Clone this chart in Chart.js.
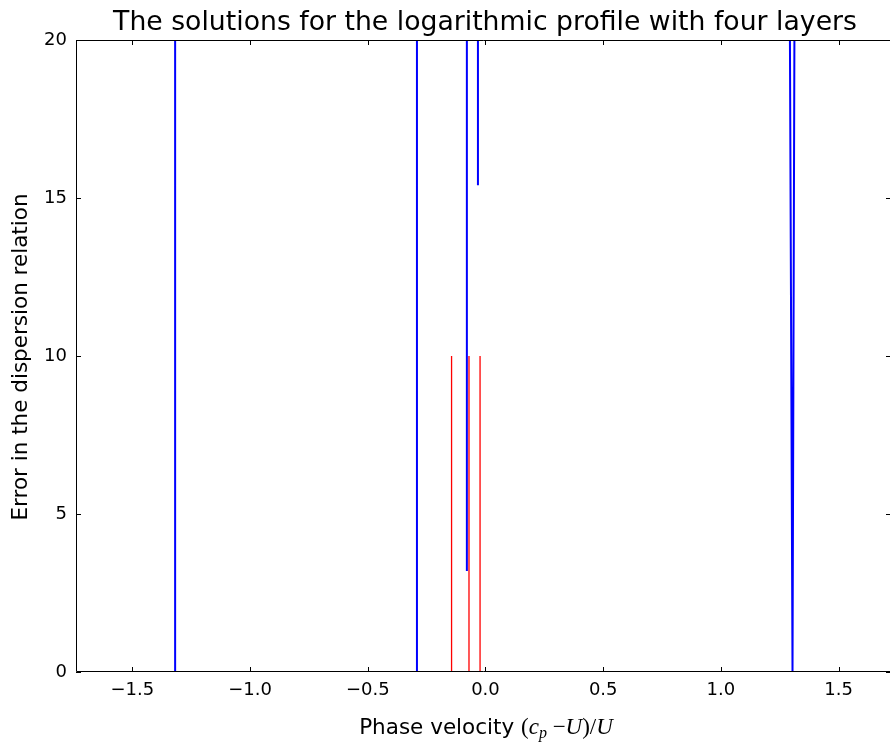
<!DOCTYPE html>
<html>
<head>
<meta charset="utf-8">
<script src="https://cdn.jsdelivr.net/npm/chart.js@4"></script>
<style>
html, body { margin: 0; padding: 0; background: #fff; overflow: hidden; }
</style>
</head>
<body>
<canvas id="chart" width="890" height="743"></canvas>
<script>
// tick labels
const xTicks = [-1.5, -1.0, -0.5, 0.0, 0.5, 1.0, 1.5];
const yTicks = [0, 5, 10, 15, 20];

// blue curve (null = gap between branches)
const blueX = [-1.318, -1.318, null, -0.291, -0.291, null, -0.079, -0.079, null, -0.032, -0.032, null, 1.293, 1.304, 1.312];
const blueY = [0, 20, null, 0, 20, null, 3.2, 20, null, 15.4, 20, null, 20, 0, 20];

// red markers of the roots
const redX = [-0.144, -0.144, null, -0.070, -0.070, null, -0.023, -0.023];
const redY = [0, 10, null, 0, 10, null, 0, 10];

function toPoints(xs, ys) {
    let last = 0;
    return xs.map((x, i) => {
        if (x === null) return { x: last, y: null };
        last = x;
        return { x: x, y: ys[i] };
    });
}

const fmt = v => {
    const s = Math.abs(v).toFixed(1);
    return v < 0 ? "\u2212" + s : s;
};

// frame, inward ticks and all text labels
const decor = {
    id: "decor",
    afterDraw(chart) {
        const ctx = chart.ctx;
        const a = chart.chartArea;
        const W = chart.width;
        const xs = chart.scales.x, ys = chart.scales.y;
        ctx.save();
        ctx.strokeStyle = "#000";
        ctx.lineWidth = 1;
        // left, top, bottom spines; the right one is cropped off in the original
        ctx.beginPath();
        ctx.moveTo(W, a.top + 0.5); ctx.lineTo(a.left + 0.5, a.top + 0.5);
        ctx.lineTo(a.left + 0.5, a.bottom - 0.5); ctx.lineTo(W, a.bottom - 0.5);
        xTicks.forEach(v => {
            const px = Math.round(xs.getPixelForValue(v)) + 0.5;
            ctx.moveTo(px, a.bottom); ctx.lineTo(px, a.bottom - 5);
            ctx.moveTo(px, a.top); ctx.lineTo(px, a.top + 5);
        });
        yTicks.forEach(v => {
            const py = Math.round(ys.getPixelForValue(v)) + 0.5;
            ctx.moveTo(a.left, py); ctx.lineTo(a.left + 5, py);
            ctx.moveTo(W, py); ctx.lineTo(W - 4, py);
        });
        ctx.stroke();

        ctx.fillStyle = "#000";
        // title
        ctx.font = "26.7px 'DejaVu Sans'";
        ctx.textAlign = "center";
        ctx.textBaseline = "alphabetic";
        ctx.fillText("The solutions for the logarithmic profile with four layers", 485, 30);

        // y label
        ctx.save();
        ctx.translate(21, 357);
        ctx.rotate(-Math.PI / 2);
        ctx.font = "21.5px 'DejaVu Sans'";
        ctx.textBaseline = "middle";
        ctx.fillText("Error in the dispersion relation", 0, 0);
        ctx.restore();

        // x label with math part
        const base = 734;
        const parts = [
            { t: "Phase velocity ", f: "21.5px 'DejaVu Sans'", dy: 0 },
            { t: "(", f: "23px 'Liberation Serif'", dy: 0 },
            { t: "c", f: "italic 23px 'Liberation Serif'", dy: 0 },
            { t: "p", f: "italic 16px 'Liberation Serif'", dy: 4 },
            { t: " \u2212", f: "23px 'Liberation Serif'", dy: 0 },
            { t: "U", f: "italic 23px 'Liberation Serif'", dy: 0 },
            { t: ")/", f: "23px 'Liberation Serif'", dy: 0 },
            { t: "U", f: "italic 23px 'Liberation Serif'", dy: 0 }
        ];
        let total = 0;
        parts.forEach(p => { ctx.font = p.f; p.w = ctx.measureText(p.t).width; total += p.w; });
        let cx = 486 - total / 2;
        ctx.textAlign = "left";
        parts.forEach(p => {
            ctx.font = p.f;
            ctx.fillText(p.t, cx, base + p.dy);
            cx += p.w;
        });
        ctx.restore();
    }
};

new Chart(document.getElementById("chart").getContext("2d"), {
    type: "line",
    data: {
        datasets: [
            {
                data: toPoints(blueX, blueY),
                borderColor: "#0000ff",
                borderWidth: 2,
                pointRadius: 0,
                spanGaps: false,
                tension: 0
            },
            {
                data: toPoints(redX, redY),
                borderColor: "#ff0000",
                borderWidth: 1.3,
                pointRadius: 0,
                spanGaps: false,
                tension: 0
            }
        ]
    },
    options: {
        responsive: false,
        animation: false,
        layout: { padding: { left: 0, top: 40, right: 0, bottom: 0 } },
        plugins: {
            legend: { display: false },
            tooltip: { enabled: false },
            title: { display: false }
        },
        scales: {
            x: {
                type: "linear",
                min: -1.739,
                max: 1.718,
                afterBuildTicks: s => { s.ticks = xTicks.map(v => ({ value: v })); },
                afterFit: s => { s.height = 71; },
                grid: { display: false, drawTicks: false },
                border: { display: false },
                ticks: {
                    callback: v => fmt(v),
                    color: "#000",
                    font: { family: "DejaVu Sans", size: 18 },
                    padding: 8,
                    maxRotation: 0,
                    autoSkip: false
                }
            },
            y: {
                min: 0,
                max: 20,
                afterBuildTicks: s => { s.ticks = yTicks.map(v => ({ value: v })); },
                afterFit: s => { s.width = 76; },
                grid: { display: false, drawTicks: false },
                border: { display: false },
                ticks: {
                    color: "#000",
                    font: { family: "DejaVu Sans", size: 18 },
                    padding: 9
                }
            }
        }
    },
    plugins: [decor]
});
</script>
</body>
</html>
